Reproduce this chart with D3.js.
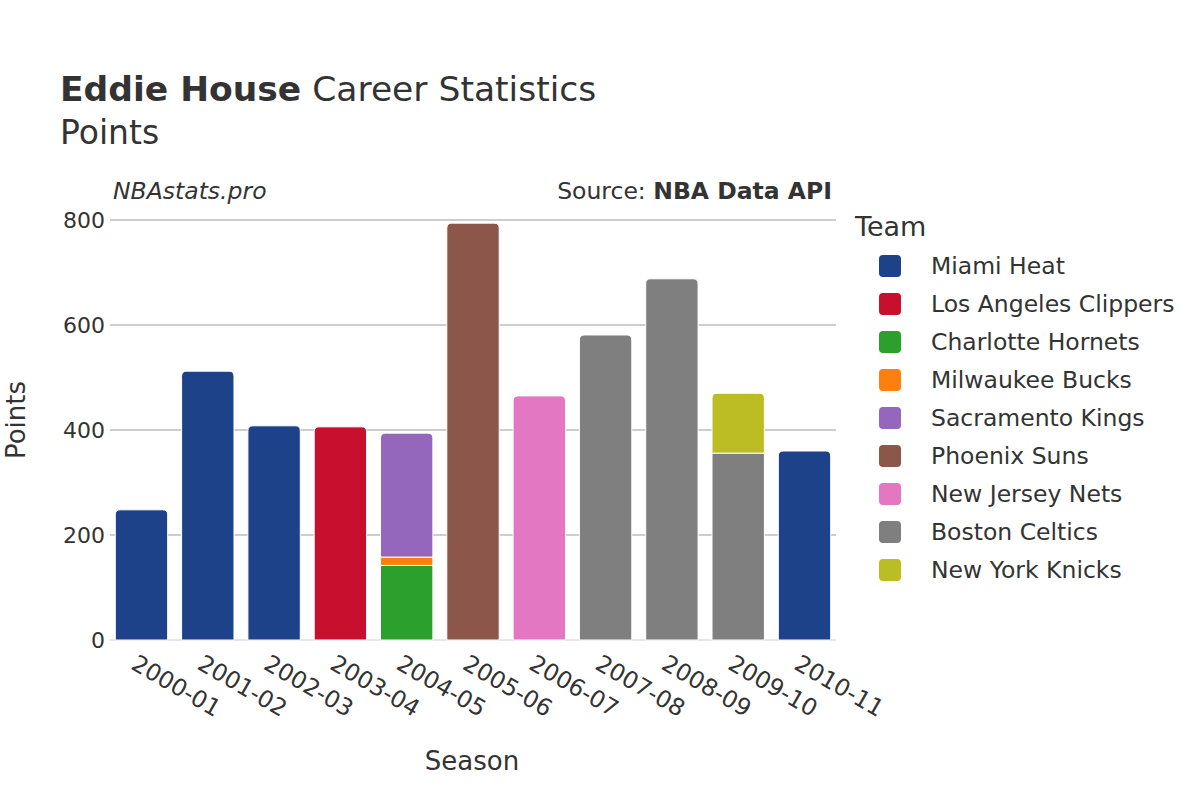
<!DOCTYPE html>
<html>
<head>
<meta charset="utf-8">
<script src="https://cdn.jsdelivr.net/npm/d3@7"></script>
<style>
  body { margin: 0; background: #fff; }
  text { font-family: "DejaVu Sans", sans-serif; fill: #333; }
</style>
</head>
<body>
<div id="chart"></div>
<script>
const seasons = ["2000-01", "2001-02", "2002-03", "2003-04", "2004-05", "2005-06",
  "2006-07", "2007-08", "2008-09", "2009-10", "2010-11"];
const teams = ["Miami Heat", "Los Angeles Clippers", "Charlotte Hornets", "Milwaukee Bucks",
  "Sacramento Kings", "Phoenix Suns", "New Jersey Nets", "Boston Celtics", "New York Knicks"];
const teamColors = ["#1d428a", "#c8102e", "#2ca02c", "#ff7f0e", "#9467bd",
  "#8c564b", "#e377c2", "#7f7f7f", "#bcbd22"];

// points per season, one array per team (0 = did not play there)
const miamiHeat      = [248, 512, 408, 0, 0, 0, 0, 0, 0, 0, 360];
const clippers       = [0, 0, 0, 406, 0, 0, 0, 0, 0, 0, 0];
const hornets        = [0, 0, 0, 0, 142, 0, 0, 0, 0, 0, 0];
const bucks          = [0, 0, 0, 0, 16, 0, 0, 0, 0, 0, 0];
const kings          = [0, 0, 0, 0, 236, 0, 0, 0, 0, 0, 0];
const suns           = [0, 0, 0, 0, 0, 794, 0, 0, 0, 0, 0];
const nets           = [0, 0, 0, 0, 0, 0, 465, 0, 0, 0, 0];
const celtics        = [0, 0, 0, 0, 0, 0, 0, 581, 688, 356, 0];
const knicks         = [0, 0, 0, 0, 0, 0, 0, 0, 0, 114, 0];
const teamValues = [miamiHeat, clippers, hornets, bucks, kings, suns, nets, celtics, knicks];

const yTicks = [0, 200, 400, 600, 800];

const rows = seasons.map(function (s, i) {
  const r = { season: s };
  teams.forEach(function (t, j) { r[t] = teamValues[j][i]; });
  return r;
});

const W = 1200, H = 800;
const plot = { left: 110, right: 836, top: 220, bottom: 640 };

const svg = d3.select("#chart").append("svg")
  .attr("width", W).attr("height", H);

const x = d3.scaleBand().domain(seasons).range([plot.left, plot.right]).paddingInner(0.21).paddingOuter(0.08);
const y = d3.scaleLinear().domain([0, 800]).range([plot.bottom, plot.top]);

// gridlines
svg.append("g").selectAll("line").data(yTicks).join("line")
  .attr("x1", plot.left).attr("x2", plot.right)
  .attr("y1", function (d) { return y(d); }).attr("y2", function (d) { return y(d); })
  .attr("stroke", function (d) { return d === 0 ? "#e6e6e6" : "#bdbdbd"; })
  .attr("stroke-width", function (d) { return d === 0 ? 2 : 1.5; });

// y tick labels
svg.append("g").selectAll("text").data(yTicks).join("text")
  .attr("x", plot.left - 5).attr("y", function (d) { return y(d); })
  .attr("dy", "0.35em").attr("text-anchor", "end")
  .style("font-size", "22px")
  .text(function (d) { return d; });

// stacked bars
const stack = d3.stack().keys(teams);
const series = stack(rows);
const topKey = seasons.map(function (s, i) {
  let k = -1;
  teams.forEach(function (t, j) { if (teamValues[j][i] > 0) k = j; });
  return k;
});

function barPath(x0, w, yTop, yBot, rounded) {
  const r = rounded ? Math.min(5, (yBot - yTop)) : 0;
  return "M" + x0 + "," + yBot +
    "V" + (yTop + r) +
    (r ? "Q" + x0 + "," + yTop + " " + (x0 + r) + "," + yTop : "") +
    "H" + (x0 + w - r) +
    (r ? "Q" + (x0 + w) + "," + yTop + " " + (x0 + w) + "," + (yTop + r) : "") +
    "V" + yBot + "Z";
}

series.forEach(function (s, j) {
  svg.append("g").selectAll("path")
    .data(s.filter(function (d) { return d[1] - d[0] > 0; }))
    .join("path")
    .attr("d", function (d) {
      const i = seasons.indexOf(d.data.season);
      return barPath(x(d.data.season), x.bandwidth(), y(d[1]), y(d[0]), topKey[i] === j);
    })
    .attr("fill", teamColors[j])
    .attr("stroke", "#fff")
    .attr("stroke-width", 1);
});

// x tick labels, rotated
svg.append("g").selectAll("text").data(seasons).join("text")
  .attr("transform", function (d) {
    return "translate(" + (x(d) + x.bandwidth() / 2 - 3) + "," + (plot.bottom + 13) + ") rotate(30)";
  })
  .attr("dy", "0.75em")
  .style("font-size", "23.5px")
  .text(function (d) { return d; });

// axis titles
svg.append("text").attr("x", 472).attr("y", 770).attr("text-anchor", "middle")
  .style("font-size", "26px").text("Season");
svg.append("text").attr("transform", "translate(25,420) rotate(-90)").attr("text-anchor", "middle")
  .style("font-size", "26px").text("Points");

// title
const title = svg.append("text").attr("x", 60).attr("y", 101).style("font-size", "34.5px");
title.append("tspan").style("font-weight", "bold").text("Eddie House");
title.append("tspan").text(" Career Statistics");
svg.append("text").attr("x", 60).attr("y", 144).style("font-size", "33px").text("Points");

// watermark and source
svg.append("text").attr("x", 113).attr("y", 199).style("font-size", "23.5px")
  .style("font-style", "italic").text("NBAstats.pro");
const src = svg.append("text").attr("x", 832).attr("y", 199).attr("text-anchor", "end")
  .style("font-size", "23.5px");
src.append("tspan").text("Source: ");
src.append("tspan").style("font-weight", "bold").text("NBA Data API");

// legend
const legend = svg.append("g").attr("transform", "translate(855,0)");
legend.append("text").attr("x", 0).attr("y", 236).style("font-size", "27px").text("Team");
const items = legend.selectAll("g.item").data(teams).join("g")
  .attr("class", "item")
  .attr("transform", function (d, i) { return "translate(0," + (266 + i * 38) + ")"; });
items.append("rect").attr("x", 24).attr("y", -11).attr("width", 22).attr("height", 22)
  .attr("rx", 4).attr("fill", function (d, i) { return teamColors[i]; });
items.append("text").attr("x", 76).attr("dy", "0.35em").style("font-size", "23.5px")
  .text(function (d) { return d; });
</script>
</body>
</html>
